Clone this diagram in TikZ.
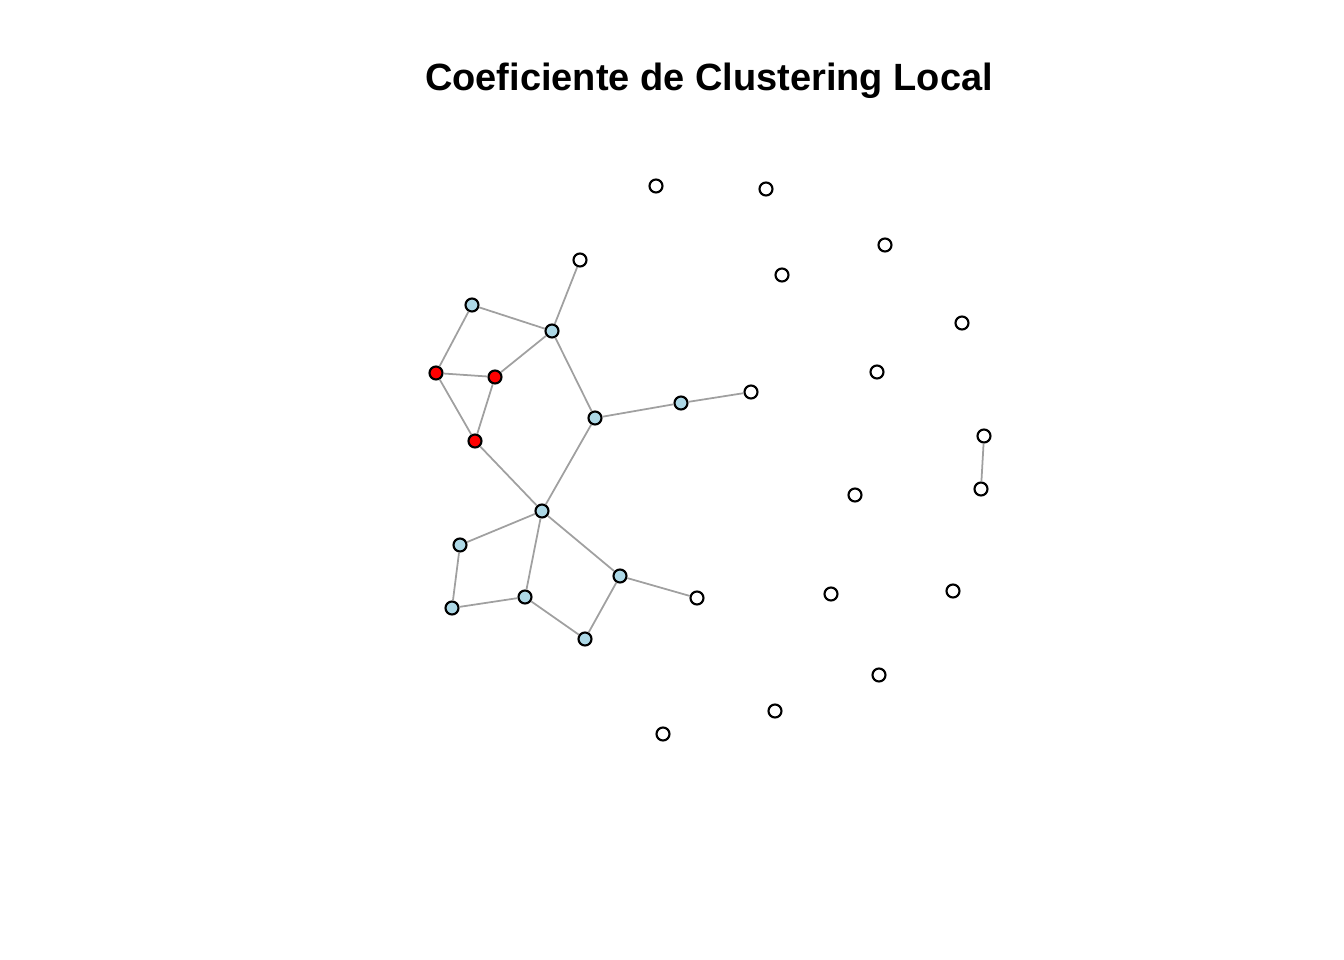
\documentclass[tikz,border=0pt]{standalone}
\usepackage{fontspec}
\setmainfont{Liberation Sans}
\usepackage{xcolor}
\usetikzlibrary{positioning,calc}

\definecolor{lblue}{RGB}{173,216,230}
\definecolor{edgegray}{RGB}{160,160,160}

\tikzset{
    vtx/.style={circle, draw=black, line width=0.6pt, minimum size=0.13cm, inner sep=0pt},
    vblue/.style={vtx, fill=lblue},
    vred/.style={vtx, fill=red},
    vwhite/.style={vtx, fill=white},
    edge/.style={draw=edgegray, line width=0.5pt}
}

\begin{document}
\begin{tikzpicture}[x=0.01cm, y=-0.01cm]
    % Canvas
    \useasboundingbox (0,0) rectangle (1344,960);
    \node[font=\fontsize{10.8}{13}\selectfont\bfseries] (title) at (709,81) {Coeficiente de Clustering Local};

    % Connected component
    \node[vblue] (a1) at (472,305) {};
    \node[vblue] (a2) at (552,331) {};
    \node[vwhite] (a3) at (580,260) {};
    \node[vred] (r1) at (436,373) {};
    \node[vred] (r2) at (495,377) {};
    \node[vred] (r3) at (475,441) {};
    \node[vblue] (b1) at (595,418) {};
    \node[vblue] (b2) at (681,403) {};
    \node[vwhite] (b3) at (751,392) {};
    \node[vblue] (c1) at (542,511) {};
    \node[vblue] (c2) at (460,545) {};
    \node[vblue] (c3) at (452,608) {};
    \node[vblue] (c4) at (525,597) {};
    \node[vblue] (c5) at (585,639) {};
    \node[vblue] (c6) at (620,576) {};
    \node[vwhite] (c7) at (697,598) {};

    % Pair
    \node[vwhite] (p1) at (984,436) {};
    \node[vwhite] (p2) at (981,489) {};

    % Isolated vertices
    \foreach \x/\y [count=\i] in {656/186, 766/189, 885/245, 782/275, 962/323, 877/372, 855/495, 831/594, 953/591, 879/675, 775/711, 663/734}
        \node[vwhite] (i\i) at (\x,\y) {};

    % Edges
    \foreach \u/\v in {a1/a2, a2/a3, a1/r1, r1/r2, r2/a2, r1/r3, r2/r3, a2/b1, b1/b2, b2/b3, b1/c1, r3/c1, c1/c2, c2/c3, c3/c4, c4/c1, c4/c5, c5/c6, c6/c1, c6/c7, p1/p2}
        \draw[edge] (\u) -- (\v);
\end{tikzpicture}
\end{document}
